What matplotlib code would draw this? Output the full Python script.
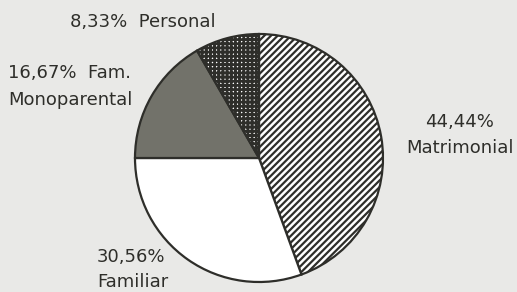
import numpy as np
import matplotlib
matplotlib.use("Agg")
import matplotlib.pyplot as plt

# data
categories = ["Matrimonial", "Familiar", "Fam. Monoparental", "Personal"]
shares = [44.44, 30.56, 16.67, 8.33]
pct_labels = ["44,44%", "30,56%", "16,67%  Fam.", "8,33%  Personal"]
name_labels = ["Matrimonial", "Familiar", "Monoparental", ""]

plt.rcParams["font.family"] = ["DejaVu Sans"]
plt.rcParams["hatch.linewidth"] = 1.6

bg = "#e9e9e7"
ink = "#2e2e2a"

fig = plt.figure(figsize=(5.17, 2.92), dpi=100, facecolor=bg)
ax = fig.add_axes([0, 0, 1, 1])
ax.set_facecolor(bg)

wedges, _ = ax.pie(
    shares,
    startangle=90,
    counterclock=False,
    radius=124,
    center=(259, 134),
    colors=["white", "white", "#72726a", "white"],
    wedgeprops=dict(edgecolor=ink, linewidth=1.6),
)
wedges[0].set_hatch("/////")
wedges[3].set_hatch("++++")
if hasattr(wedges[3], "set_hatch_linewidth"):
    wedges[0].set_hatch_linewidth(1.6)
    wedges[3].set_hatch_linewidth(2.0)

ax.set_xlim(0, 517)
ax.set_ylim(0, 292)
ax.set_aspect("equal")
ax.axis("off")

# label positions (pixel coords, y measured from top): first line, second line
label_pos = [(460, 122, 148, "center"), (97, 257, 282, "left"),
             (8, 73, 100, "left"), (70, 22, 0, "left")]
for top, bottom, (x, y1, y2, ha) in zip(pct_labels, name_labels, label_pos):
    ax.text(x, 292 - y1, top, ha=ha, va="center", fontsize=13, color=ink)
    if bottom:
        ax.text(x, 292 - y2, bottom, ha=ha, va="center", fontsize=13,
                color=ink)

fig.savefig("out.png", dpi=100, facecolor=bg)
